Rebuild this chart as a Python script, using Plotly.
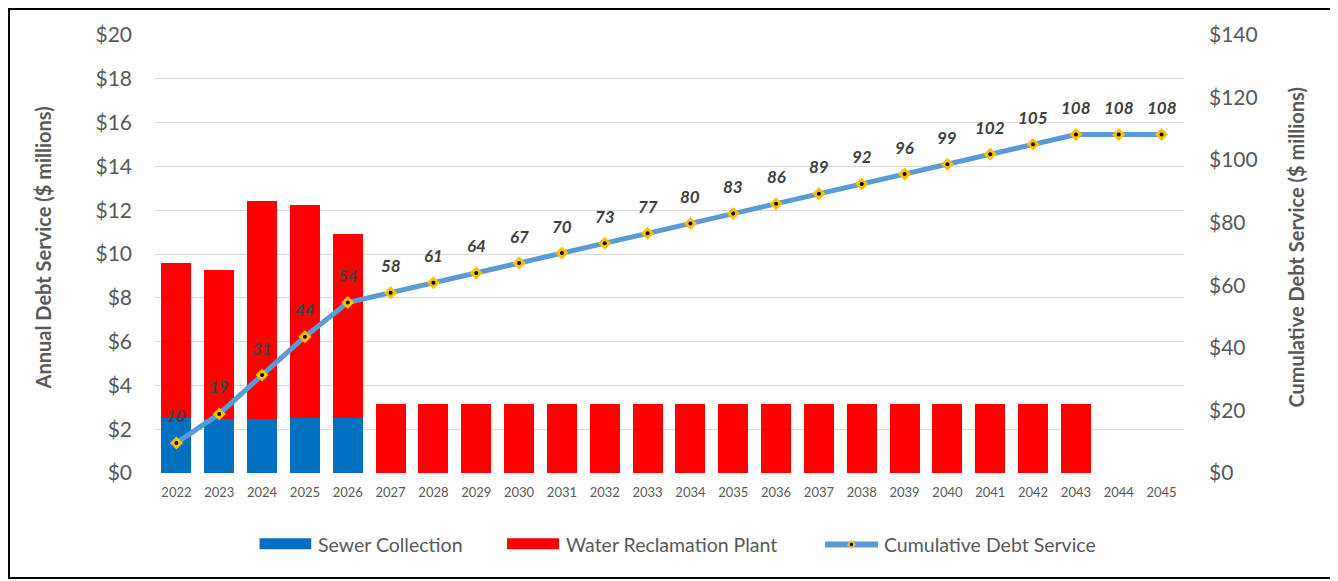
import plotly.graph_objects as go

years = ["2022", "2023", "2024", "2025", "2026", "2027", "2028", "2029", "2030", "2031",
         "2032", "2033", "2034", "2035", "2036", "2037", "2038", "2039", "2040", "2041",
         "2042", "2043", "2044", "2045"]
sewer_collection = [2.53, 2.48, 2.48, 2.51, 2.53, 0, 0, 0, 0, 0,
                    0, 0, 0, 0, 0, 0, 0, 0, 0, 0,
                    0, 0, 0, 0]
water_reclamation = [7.08, 6.79, 9.93, 9.75, 8.40, 3.16, 3.16, 3.16, 3.16, 3.16,
                     3.16, 3.16, 3.16, 3.16, 3.16, 3.16, 3.16, 3.16, 3.16, 3.16,
                     3.16, 3.16, 0, 0]
cumulative = [9.61, 18.88, 31.29, 43.55, 54.48, 57.64, 60.80, 63.96, 67.12, 70.28,
              73.44, 76.60, 79.76, 82.92, 86.08, 89.24, 92.40, 95.56, 98.72, 101.88,
              105.04, 108.20, 108.20, 108.20]
cumulative_labels = ["10", "19", "31", "44", "54", "58", "61", "64", "67", "70",
                     "73", "77", "80", "83", "86", "89", "92", "96", "99", "102",
                     "105", "108", "108", "108"]
left_ticks = [0, 2, 4, 6, 8, 10, 12, 14, 16, 18, 20]
left_tick_text = ["$0", "$2", "$4", "$6", "$8", "$10", "$12", "$14", "$16", "$18", "$20"]
right_ticks = [0, 20, 40, 60, 80, 100, 120, 140]
right_tick_text = ["$0", "$20", "$40", "$60", "$80", "$100", "$120", "$140"]

FONT = "Lato"
GREY = "#595959"
BLUE = "#0070C0"
RED = "#FF0000"
LINE = "#5B9BD5"
GOLD = "#FFC000"

fig = go.Figure()
fig.add_trace(go.Bar(x=years, y=sewer_collection, name="Sewer Collection",
                     marker=dict(color=BLUE, line=dict(width=0))))
fig.add_trace(go.Bar(x=years, y=water_reclamation, name="Water Reclamation Plant",
                     marker=dict(color=RED, line=dict(width=0))))
fig.add_trace(go.Scatter(x=years, y=cumulative, name="Cumulative Debt Service", yaxis="y2",
                         mode="lines+markers",
                         line=dict(color=LINE, width=5),
                         marker=dict(symbol="diamond", size=10, color=GOLD,
                                     line=dict(width=0))))
fig.add_trace(go.Scatter(x=years, y=cumulative, yaxis="y2", mode="markers", showlegend=False,
                         hoverinfo="skip",
                         marker=dict(symbol="circle", size=4, color="#000000")))

# data labels (category index positions on the x axis)
for i, (val, lab) in enumerate(zip(cumulative, cumulative_labels)):
    fig.add_annotation(x=i, y=val, xref="x", yref="y2", text="<b><i>" + lab + "</i></b>",
                       showarrow=False, yshift=27,
                       font=dict(family=FONT, size=17, color="#404040"))

# axis titles
fig.add_annotation(x=-0.109, y=0.515, xref="paper", yref="paper", textangle=-90,
                   xanchor="center", yanchor="middle",
                   text="<b>Annual Debt Service ($ millions)</b>", showarrow=False,
                   font=dict(family=FONT, size=20, color=GREY))
fig.add_annotation(x=1.110, y=0.515, xref="paper", yref="paper", textangle=-90,
                   xanchor="center", yanchor="middle",
                   text="<b>Cumulative Debt Service ($ millions)</b>", showarrow=False,
                   font=dict(family=FONT, size=20, color=GREY))

# outer border
fig.add_shape(type="rect", xref="paper", yref="paper", x0=-0.1420, x1=1.1469,
              y0=-0.2397, y1=1.0594, line=dict(color="black", width=2))

# legend (drawn below the plot, Excel style wide swatches)
LEG_Y = -0.1632
SW_Y0, SW_Y1 = -0.1742, -0.1491
fig.add_shape(type="rect", xref="paper", yref="paper", x0=0.1017, x1=0.1520,
              y0=SW_Y0, y1=SW_Y1, fillcolor=BLUE, line=dict(width=0))
fig.add_shape(type="rect", xref="paper", yref="paper", x0=0.3424, x1=0.3930,
              y0=SW_Y0, y1=SW_Y1, fillcolor=RED, line=dict(width=0))
fig.add_shape(type="line", xref="paper", yref="paper", x0=0.6518, x1=0.7033,
              y0=LEG_Y, y1=LEG_Y, line=dict(color=LINE, width=6))
dx, dy = 0.00438, 0.01027
cx = 0.6775
fig.add_shape(type="path", xref="paper", yref="paper",
              path=f"M {cx - dx} {LEG_Y} L {cx} {LEG_Y + dy} L {cx + dx} {LEG_Y} L {cx} {LEG_Y - dy} Z",
              fillcolor=GOLD, line=dict(width=0))
rx, ry = 0.0017, 0.0039
fig.add_shape(type="circle", xref="paper", yref="paper",
              x0=cx - rx, x1=cx + rx, y0=LEG_Y - ry, y1=LEG_Y + ry,
              fillcolor="#000000", line=dict(width=0))
for xpos, name in [(0.1566, "Sewer Collection"), (0.3979, "Water Reclamation Plant"),
                   (0.7072, "Cumulative Debt Service")]:
    fig.add_annotation(x=xpos, y=LEG_Y, xref="paper", yref="paper", text=name,
                       xanchor="left", yanchor="middle", showarrow=False,
                       font=dict(family=FONT, size=19.5, color=GREY))

fig.update_layout(
    width=1330, height=573,
    margin=dict(l=147, r=155, t=27, b=108),
    paper_bgcolor="white", plot_bgcolor="white",
    barmode="stack", bargap=0.3,
    font=dict(family=FONT, color=GREY),
    xaxis=dict(type="category", range=[-0.5, len(years) - 0.5], showgrid=False,
               showline=False, zeroline=False,
               tickfont=dict(size=13, color=GREY), ticks="", ticklabelstandoff=10),
    yaxis=dict(range=[0, 20], tickvals=left_ticks, ticktext=left_tick_text,
               showgrid=True, gridcolor="#D9D9D9", gridwidth=1, zeroline=False,
               showline=False, tickfont=dict(size=21, color=GREY), ticklabelstandoff=22),
    yaxis2=dict(range=[0, 140], tickvals=right_ticks, ticktext=right_tick_text,
                overlaying="y", side="right", showgrid=False, zeroline=False,
                showline=False, tickfont=dict(size=21, color=GREY), ticklabelstandoff=25),
    showlegend=False,
)

fig.write_html("out.html")
